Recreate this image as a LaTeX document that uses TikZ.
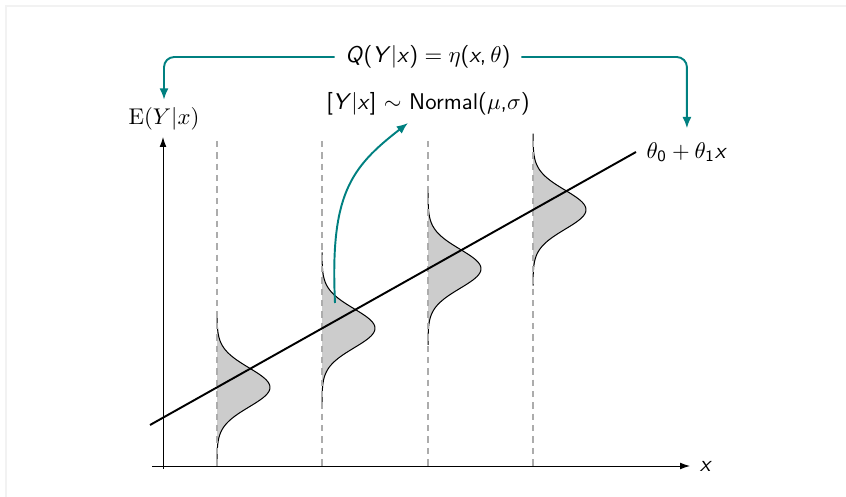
\documentclass[tikz,border=0pt]{standalone}
\usetikzlibrary{arrows.meta}
\definecolor{tealc}{RGB}{0,128,128}
\newcommand{\sv}[1]{\textsf{\itshape #1}}
\tikzset{
  axisline/.style={line width=0.42pt,-{Latex[length=4.4pt,width=3pt]}},
  guide/.style={gray!65,line width=0.45pt,dash pattern=on 2.8pt off 2.2pt},
  bell/.style={line width=0.45pt,black},
  bellfill/.style={fill=gray!40},
  regline/.style={line width=0.85pt,black},
  link/.style={tealc,line width=0.85pt,-{Latex[length=5pt,width=4pt]}},
  lbl/.style={inner sep=3.3pt}
}
\begin{document}
\begin{tikzpicture}[x=0.44pt,y=-0.44pt]
\useasboundingbox (0,0) rectangle (846,497);
% faint frame
\draw[gray!10,line width=0.5pt] (846,6) -- (6,6) -- (6,497);
% gaussians
\foreach \bx/\cy in {217/387.4,322/328.3,428/268.8,533/209.7}{
  \fill[bellfill] plot[domain=-76:76,samples=90] ({\bx+53*exp(-(\x*\x)/760.5)},{\cy+\x}) -- cycle;
  \draw[bell] plot[domain=-76:76,samples=90] ({\bx+53*exp(-(\x*\x)/760.5)},{\cy+\x});
  \draw[guide] (\bx,141) -- (\bx,466);
}
% axes
\coordinate (xa0) at (152,466);
\coordinate (xa1) at (690,466);
\coordinate (ya0) at (163,469);
\coordinate (ya1) at (163,137);
\draw[axisline] (xa0) -- (xa1);
\draw[axisline] (ya0) -- (ya1);
\node[lbl,anchor=west] (X) at (692,466) {\sv{x}};
\node[lbl] (E) at (164,119) {$\mathrm{E}(Y|x)$};
% regression line
\coordinate (L0) at (150,425);
\coordinate (L1) at (636,152);
\draw[regline] (L0) -- (L1);
\node[lbl,anchor=west,inner sep=4.5pt] (T) at (L1) {$\theta_{\mathsf{0}}+\theta_{\mathsf{1}}$\sv{x}};
% top label and arrows
\node[inner sep=4.6pt] (Q) at (428,57) {\sffamily\sv{Q}(\sv{Y}|\sv{x})${}={}\eta$(\sv{x},\kern1.8pt$\theta$)};
\draw[link,rounded corners=4.5pt] (Q.west) -| (E.north);
\draw[link,rounded corners=4.5pt] (Q.east) -| ([yshift=1.5pt]T.north);
% normal label and curved arrow
\node[lbl] (N) at (428,104) {\sffamily[\sv{Y}|\sv{x}] $\sim$ Normal($\mu$,$\sigma$)};
\coordinate (S) at (335,303);
\coordinate (Nt) at (408,123);
\draw[link] (S) .. controls (330,195) and (350,168) .. (Nt);
\end{tikzpicture}
\end{document}
